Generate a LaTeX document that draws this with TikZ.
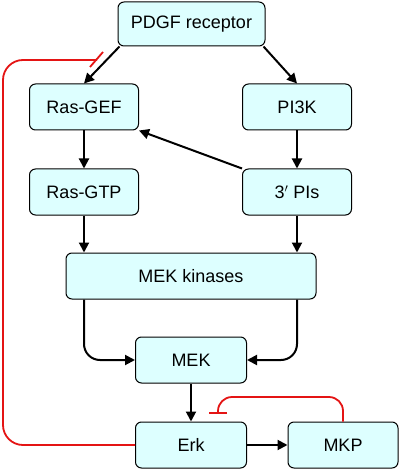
\documentclass[tikz,border=0pt]{standalone}
\usepackage{fontspec}
\setmainfont{Liberation Sans}
\usetikzlibrary{arrows.meta}
\definecolor{boxfill}{RGB}{221,255,255}
\definecolor{inhred}{RGB}{228,20,20}
\begin{document}
\begin{tikzpicture}[x=1pt, y=-1pt,
	box/.style={rectangle, rounded corners=6pt, draw=black, line width=1pt, fill=boxfill, minimum width=109pt, minimum height=46pt, inner sep=0pt, font=\fontsize{18}{20}\selectfont},
	act/.style={draw=black, line width=2pt, -{Triangle[length=10pt, width=10pt]}},
	inh/.style={draw=inhred, line width=1.8pt}]
			\useasboundingbox (0,0) rectangle (400,470);
			\node[box, minimum width=147pt, minimum height=44pt] (pdgf) at (191.5,24){PDGF receptor};
			\node[box] (rasgef) at (84,107){Ras-GEF};
			\node[box] (pi3k) at (297,107){PI3K};
			\node[box] (rasgtp) at (84,192){Ras-GTP};
			\node[box] (pis) at (297,192){3$'$ PIs};
			\node[box, minimum width=250pt] (mekk) at (191,276){MEK kinases};
			\node[box, minimum width=111pt] (mek) at (191,360){MEK};
			\node[box, minimum width=111pt] (erk) at (191,445){Erk};
			\node[box, minimum width=110pt] (mkp) at (343,445){MKP};
			
			\coordinate (hit) at (97,60);
			\coordinate (barA) at (90,67);
			\coordinate (barB) at (103,52);
			\coordinate (mkpend) at (218,414);
			
			\draw[act] ([xshift=2pt]pdgf.south west) -- (rasgef.north);
			\draw[act] ([xshift=-2pt]pdgf.south east) -- (pi3k.north);
			\draw[act] (rasgef) -- (rasgtp);
			\draw[act] (pi3k) -- (pis);
			\draw[act] (pis.north west) -- (rasgef.south east);
			\draw[act] (rasgtp) -- (rasgtp |- mekk.north);
			\draw[act] (pis) -- (pis |- mekk.north);
			\draw[act, rounded corners=16pt] (mekk.south -| rasgtp) |- (mek.west);
			\draw[act, rounded corners=16pt] (mekk.south -| pis) |- (mek.east);
			\draw[act] (mek) -- (erk);
			\draw[act] (erk) -- (mkp);
			
			\draw[inh, rounded corners=20pt] (erk.west) -| (3,60) -- (hit);
			\draw[inh] (barA) -- (barB);
			\draw[inh, rounded corners=14pt, -{Bar[width=18pt]}] (mkp.north) |- (218,397) -- (mkpend);
			\end{tikzpicture}
\end{document}
